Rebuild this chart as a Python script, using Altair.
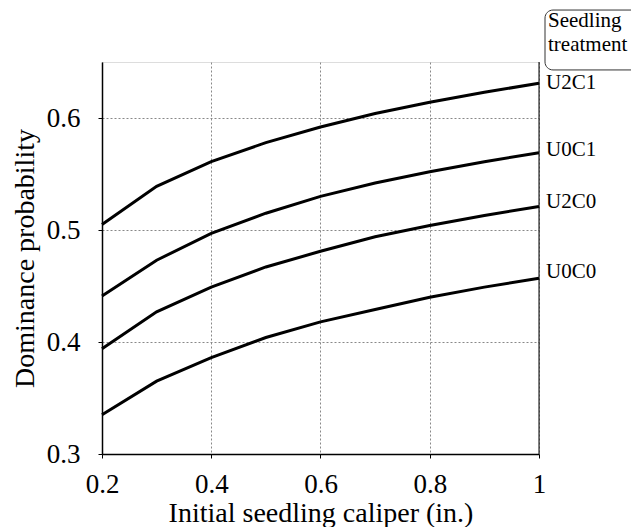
import altair as alt
import pandas as pd

caliper = [0.2, 0.3, 0.4, 0.5, 0.6, 0.7, 0.8, 0.9, 1.0]
treatments = ["U2C1", "U0C1", "U2C0", "U0C0"]
u2c1 = [0.505, 0.539, 0.561, 0.578, 0.592, 0.604, 0.614, 0.623, 0.631]
u0c1 = [0.441, 0.473, 0.497, 0.515, 0.530, 0.542, 0.552, 0.561, 0.569]
u2c0 = [0.394, 0.427, 0.449, 0.467, 0.481, 0.494, 0.504, 0.513, 0.521]
u0c0 = [0.335, 0.365, 0.386, 0.404, 0.418, 0.429, 0.440, 0.449, 0.457]
label_y = [0.631, 0.571, 0.525, 0.4625]
legend_title = ["Seedling", "treatment"]
legend_title_x = [1.0165, 1.0165]
legend_title_y = [0.6813, 0.6598]
box_x = [1.011, 1.20]
box_y = [0.6964, 0.6429]

FONT = "'Liberation Serif', 'Times New Roman', Times, serif"

series = [u2c1, u0c1, u2c0, u0c0]
rows = []
for name, vals in zip(treatments, series):
    for c, v in zip(caliper, vals):
        rows.append({"treatment": name, "caliper": c, "prob": v})
df = pd.DataFrame(rows)

labels_df = pd.DataFrame({"treatment": treatments, "caliper": [caliper[-1]] * 4, "prob": label_y})
title_df = pd.DataFrame({"text": legend_title, "caliper": legend_title_x, "prob": legend_title_y})
box_df = pd.DataFrame({"x": [box_x[0]], "x2": [box_x[1]], "y": [box_y[0]], "y2": [box_y[1]]})
border_df = pd.DataFrame({"x": [caliper[-1]], "y": [0.3], "y2": [0.65]})

xscale = alt.Scale(domain=[0.2, 1.0], nice=False, zero=False)
yscale = alt.Scale(domain=[0.3, 0.65], nice=False, zero=False)

xaxis = alt.Axis(
    values=[0.2, 0.4, 0.6, 0.8, 1.0], format="~g", title="Initial seedling caliper (in.)",
    labelFont=FONT, labelFontSize=27, labelColor="black", labelPadding=13, labelFlush=False,
    titleFont=FONT, titleFontSize=28, titleFontWeight="normal", titleColor="black", titlePadding=2,
    domainColor="black", domainWidth=1.5, tickColor="black", tickSize=4,
    grid=True, gridColor="#888", gridDash=[2, 2], gridWidth=1,
)
yaxis = alt.Axis(
    values=[0.3, 0.4, 0.5, 0.6], format="~g", title="Dominance probability",
    labelFont=FONT, labelFontSize=27, labelColor="black", labelPadding=18, labelFlush=False,
    titleFont=FONT, titleFontSize=28, titleFontWeight="normal", titleColor="black", titlePadding=7,
    domainColor="black", domainWidth=1.5, tickColor="black", tickSize=4,
    grid=True, gridColor="#888", gridDash=[2, 2], gridWidth=1,
)

lines = alt.Chart(df).mark_line(color="black", strokeWidth=3).encode(
    x=alt.X("caliper:Q", scale=xscale, axis=xaxis),
    y=alt.Y("prob:Q", scale=yscale, axis=yaxis),
    detail="treatment:N",
)

border = alt.Chart(border_df).mark_rule(color="black", strokeWidth=1).encode(
    x="x:Q", y="y:Q", y2="y2:Q"
)

labels = alt.Chart(labels_df).mark_text(
    align="left", baseline="middle", dx=7, font=FONT, fontSize=21, color="black"
).encode(x="caliper:Q", y="prob:Q", text="treatment:N")

box = alt.Chart(box_df).mark_rect(
    fill=None, fillOpacity=0, stroke="#333", strokeWidth=1, cornerRadius=8
).encode(x="x:Q", x2="x2:Q", y="y:Q", y2="y2:Q")

title_text = alt.Chart(title_df).mark_text(
    align="left", baseline="alphabetic", font=FONT, fontSize=21, color="black"
).encode(x="caliper:Q", y="prob:Q", text="text:N")

chart = alt.layer(lines, border, labels, box, title_text).properties(
    width=437, height=392,
    autosize=alt.AutoSizeParams(type="none"),
    padding={"left": 94, "top": 54, "right": 92, "bottom": 73},
).configure_view(stroke="#999", strokeWidth=1).configure(background="white")

chart.save("out.html", embed_options={"renderer": "svg", "actions": False})
